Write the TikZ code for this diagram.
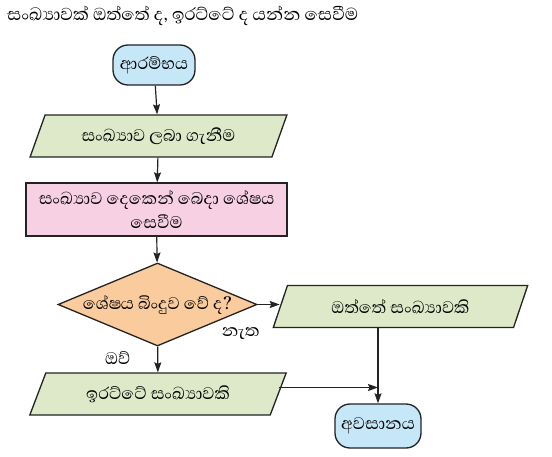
\documentclass[tikz,border=0pt]{standalone}
\usepackage{fontspec}
\newfontfamily\sinhala[Script=Sinhala]{Abhaya Libre}
\usetikzlibrary{shapes.geometric,arrows.meta}
\definecolor{termblue}{RGB}{197,231,247}
\definecolor{iogreen}{RGB}{221,233,200}
\definecolor{procpink}{RGB}{247,208,228}
\definecolor{decorange}{RGB}{250,203,156}
\definecolor{edge}{RGB}{35,35,35}
\begin{document}
\begin{tikzpicture}[
    x=1pt, y=-1pt,
    every node/.style={font=\sinhala\fontsize{21.5}{24}\selectfont},
    term/.style={rectangle, rounded corners=15pt, draw=edge, line width=1.3pt, fill=termblue, minimum width=82pt, minimum height=40pt},
    io/.style={trapezium, trapezium left angle=59, trapezium right angle=121, trapezium stretches=true, draw=edge, line width=1.3pt, fill=iogreen, minimum width=257pt, minimum height=42pt},
    proc/.style={rectangle, draw=edge, line width=1.3pt, fill=procpink, minimum width=261pt, minimum height=53pt, align=center, inner sep=0pt},
    test/.style={diamond, aspect=2.4, inner sep=0pt, draw=edge, line width=1.3pt, fill=decorange, minimum width=199pt, minimum height=83pt},
    flow/.style={-{Stealth[length=10pt,width=7pt,inset=1.5pt]}, line width=1.2pt, draw=edge}
  ]
  \useasboundingbox[fill=white] (0,0) rectangle (552,457);

  % title
  \node[anchor=west, inner sep=0pt, font=\sinhala\fontsize{22.2}{25}\selectfont] (title) at (7,16) {සංඛ්^^^^200dයාවක් ඔත්තේ ද, ඉරට්ටේ ද යන්න සෙවීම};

  % main column
  \node[term, inner sep=0pt] (start) at (154,65) {ආරම්භය};
  \node[io, inner sep=0pt] (read) at (158.5,136) {සංඛ්^^^^200dයාව ලබා ගැනීම};
  \node[proc] (rem) at (156.5,209.5) {සංඛ්^^^^200dයාව දෙකෙන් බෙදා ශේෂය\\සෙවීම};
  \node[test] (zero) at (157.5,304.5) {ශේෂය බිංදුව වේ ද?};
  \node[io, inner sep=0pt] (even) at (158,394) {ඉරට්ටේ සංඛ්^^^^200dයාවකි};

  % right column
  \node[io, inner sep=0pt, minimum width=255pt] (odd) at (400.5,306.5) {ඔත්තේ සංඛ්^^^^200dයාවකි};
  \node[term, inner sep=0pt, minimum width=86pt, minimum height=44pt] (stop) at (378,426) {අවසානය};
  \coordinate (join) at (378,387.5);

  \draw[flow] (start) -- (read);
  \draw[flow] (read) -- (rem);
  \draw[flow] (rem) -- (zero);
  \draw[flow] (zero) -- node[pos=0, xshift=-40pt, yshift=-11pt] {ඔව්} (even);
  \draw[flow] (zero.east) -- node[pos=0, xshift=-17pt, yshift=-29pt] {නැත} (zero.east -| odd.west);
  \draw[flow] (odd.south -| stop) -- (stop);
  \draw[flow] (join -| even.east) -- (join);
\end{tikzpicture}
\end{document}
